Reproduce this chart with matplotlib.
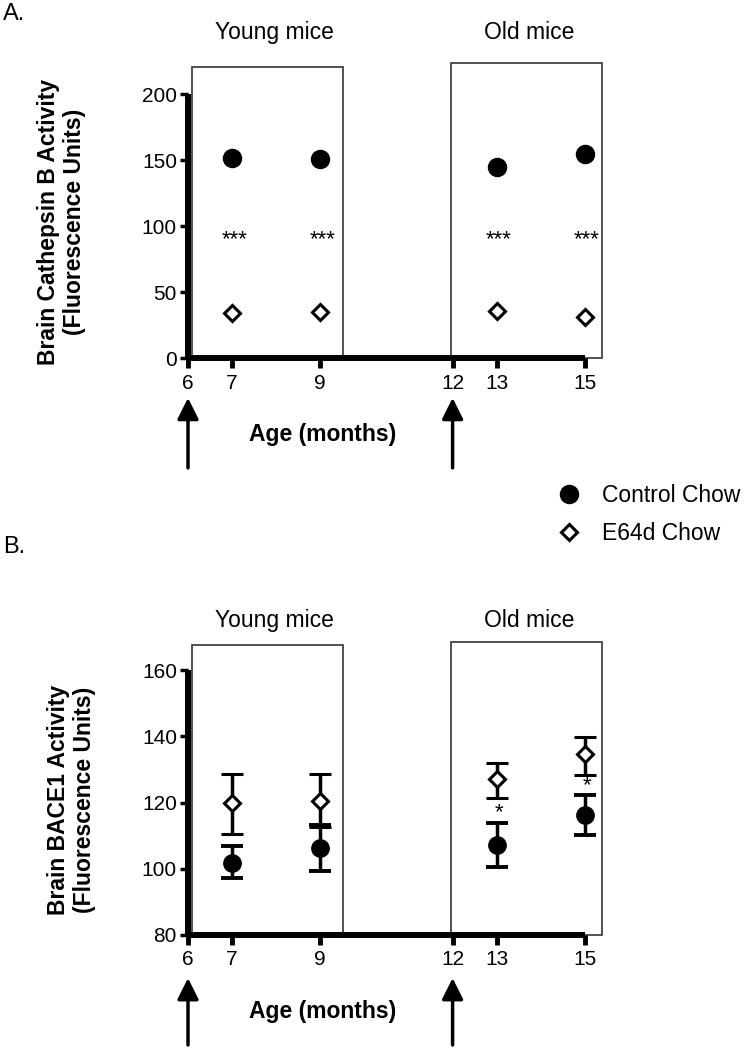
import matplotlib
matplotlib.use('Agg')
import matplotlib.pyplot as plt
from matplotlib.patches import Rectangle
from matplotlib.lines import Line2D

plt.rcParams['font.family'] = ['Liberation Sans', 'DejaVu Sans']

# ---- data ----
ages = [7, 9, 13, 15]
age_ticks = [6, 7, 9, 12, 13, 15]
diet_start = [6, 12]
groups = ['Young mice', 'Old mice']
series = ['Control Chow', 'E64d Chow']

# A. cathepsin B activity
ctsb_control = [152, 151, 145, 155]
ctsb_e64d = [34, 35, 36, 31]
ctsb_sig = ['***', '***', '***', '***']
ctsb_sig_y = [93, 93, 93, 93]

# B. BACE1 activity (mean, upper and lower error bar ends)
bace_control = [101.7, 106.3, 107.2, 116.2]
bace_control_hi = [106.9, 113.2, 113.8, 122.3]
bace_control_lo = [97.2, 99.3, 100.5, 110.2]
bace_e64d = [119.8, 120.5, 127.1, 134.6]
bace_e64d_hi = [128.6, 128.6, 131.9, 139.8]
bace_e64d_lo = [110.5, 112.6, 121.4, 128.3]
bace_sig = ['', '', '*', '*']
bace_sig_y = [0, 0, 118.3, 126.2]

W, H = 753, 1050
fig = plt.figure(figsize=(W / 100, H / 100), dpi=100)

px_month = 44.1
x0_px = 188


def make_axes(zero_px, px_unit, ylo, yhi):
    width = (15.6 - 6) * px_month
    height = (yhi - ylo) * px_unit
    ax = fig.add_axes([x0_px / W, (H - zero_px) / H, width / W, height / H])
    ax.set_xlim(6, 15.6)
    ax.set_ylim(ylo, yhi)
    return ax


def style(ax, ybounds, yticks, box_tops, title_y, age_y, arrow_tip, arrow_tail, sig, sig_y):
    for s in ['top', 'right']:
        ax.spines[s].set_visible(False)
    for s in ['left', 'bottom']:
        ax.spines[s].set_linewidth(4.3)
        ax.spines[s].set_capstyle('butt')
    ax.spines['left'].set_bounds(*ybounds)
    ax.spines['bottom'].set_bounds(6, 15)
    ax.set_xticks(age_ticks)
    ax.set_yticks(yticks)
    ax.tick_params(axis='x', length=7, width=3.5, labelsize=15, pad=4)
    ax.tick_params(axis='y', length=6, width=2.5, labelsize=15, pad=2)
    ylo = ybounds[0]
    # boxes for the two age groups
    ax.add_patch(Rectangle((6.08, ylo), 9.51 - 6.08, box_tops[0] - ylo, fill=False,
                           lw=1.2, ec='#333333', zorder=1, clip_on=False))
    ax.add_patch(Rectangle((11.97, ylo), 15.38 - 11.97, box_tops[1] - ylo, fill=False,
                           lw=1.2, ec='#333333', zorder=1, clip_on=False))
    ax.text(7.95, title_y, groups[0], ha='center', va='center', fontsize=16.5, clip_on=False)
    ax.text(13.73, title_y, groups[1], ha='center', va='center', fontsize=16.5, clip_on=False)
    ax.text(9.05, age_y, 'Age (months)', ha='center', va='center', fontsize=16.5,
            fontweight='bold', clip_on=False)
    for x in diet_start:
        ax.annotate('', xy=(x, arrow_tip), xytext=(x, arrow_tail),
                    arrowprops=dict(arrowstyle='-|>', color='k', lw=2.5, mutation_scale=32,
                                    shrinkA=0, shrinkB=0),
                    annotation_clip=False)
    for x, s, y in zip(ages, sig, sig_y):
        if s:
            ax.annotate(s, xy=(x + 0.05, y), xytext=(0, -3), textcoords='offset points',
                        ha='center', va='center', fontsize=16)


# ---- panel A ----
axA = make_axes(358.3, 1.32, 0, 230)
axA.plot(ages, ctsb_control, 'o', color='k', ms=13, ls='', zorder=3, clip_on=False)
axA.plot(ages, ctsb_e64d, 'D', mfc='white', mec='k', mew=2.2, ms=8, ls='', zorder=3,
         clip_on=False)
style(axA, (0, 200), [0, 50, 100, 150, 200], (221, 223.5), 247, -58, -30, -83,
      ctsb_sig, ctsb_sig_y)
axA.text(-0.298, 0.449, 'Brain Cathepsin B Activity\n(Fluorescence Units)',
         transform=axA.transAxes, rotation=90, ha='center', va='center',
         fontsize=16.5, fontweight='bold', linespacing=1.15)

# ---- panel B ----
axB = make_axes(935, 3.3125, 80, 172)
c_err = [[m - lo for m, lo in zip(bace_control, bace_control_lo)],
         [hi - m for m, hi in zip(bace_control, bace_control_hi)]]
e_err = [[m - lo for m, lo in zip(bace_e64d, bace_e64d_lo)],
         [hi - m for m, hi in zip(bace_e64d, bace_e64d_hi)]]
axB.errorbar(ages, bace_control, yerr=c_err, fmt='o', color='k', ms=12.5,
             elinewidth=2.5, capsize=8, capthick=2.8, zorder=3)
axB.errorbar(ages, bace_e64d, yerr=e_err, fmt='D', color='k', mfc='white', mec='k',
             mew=2.2, ms=8, elinewidth=2.5, capsize=8, capthick=2.8, zorder=3)
style(axB, (80, 160), [80, 100, 120, 140, 160], (167.6, 168.5), 175, 56.8, 67, 46.8,
      bace_sig, bace_sig_y)
axB.text(-0.276, 0.443, 'Brain BACE1 Activity\n(Fluorescence Units)',
         transform=axB.transAxes, rotation=90, ha='center', va='center',
         fontsize=16.5, fontweight='bold', linespacing=1.15)

# ---- panel letters and legend ----
fig.text(3 / W, 1 - 14 / H, 'A.', fontsize=17, ha='left', va='center')
fig.text(3 / W, 1 - 547 / H, 'B.', fontsize=17, ha='left', va='center')

handles = [Line2D([], [], marker='o', ls='', color='k', ms=13),
           Line2D([], [], marker='D', ls='', mfc='white', mec='k', mew=2.2, ms=8)]
fig.legend(handles, series, loc='upper left', bbox_to_anchor=(558 / W, 1 - 484 / H),
           frameon=False, fontsize=16.5, handlelength=1, handletextpad=0.9,
           labelspacing=0.65, borderpad=0, borderaxespad=0, numpoints=1)

fig.savefig('out.png', dpi=100)
